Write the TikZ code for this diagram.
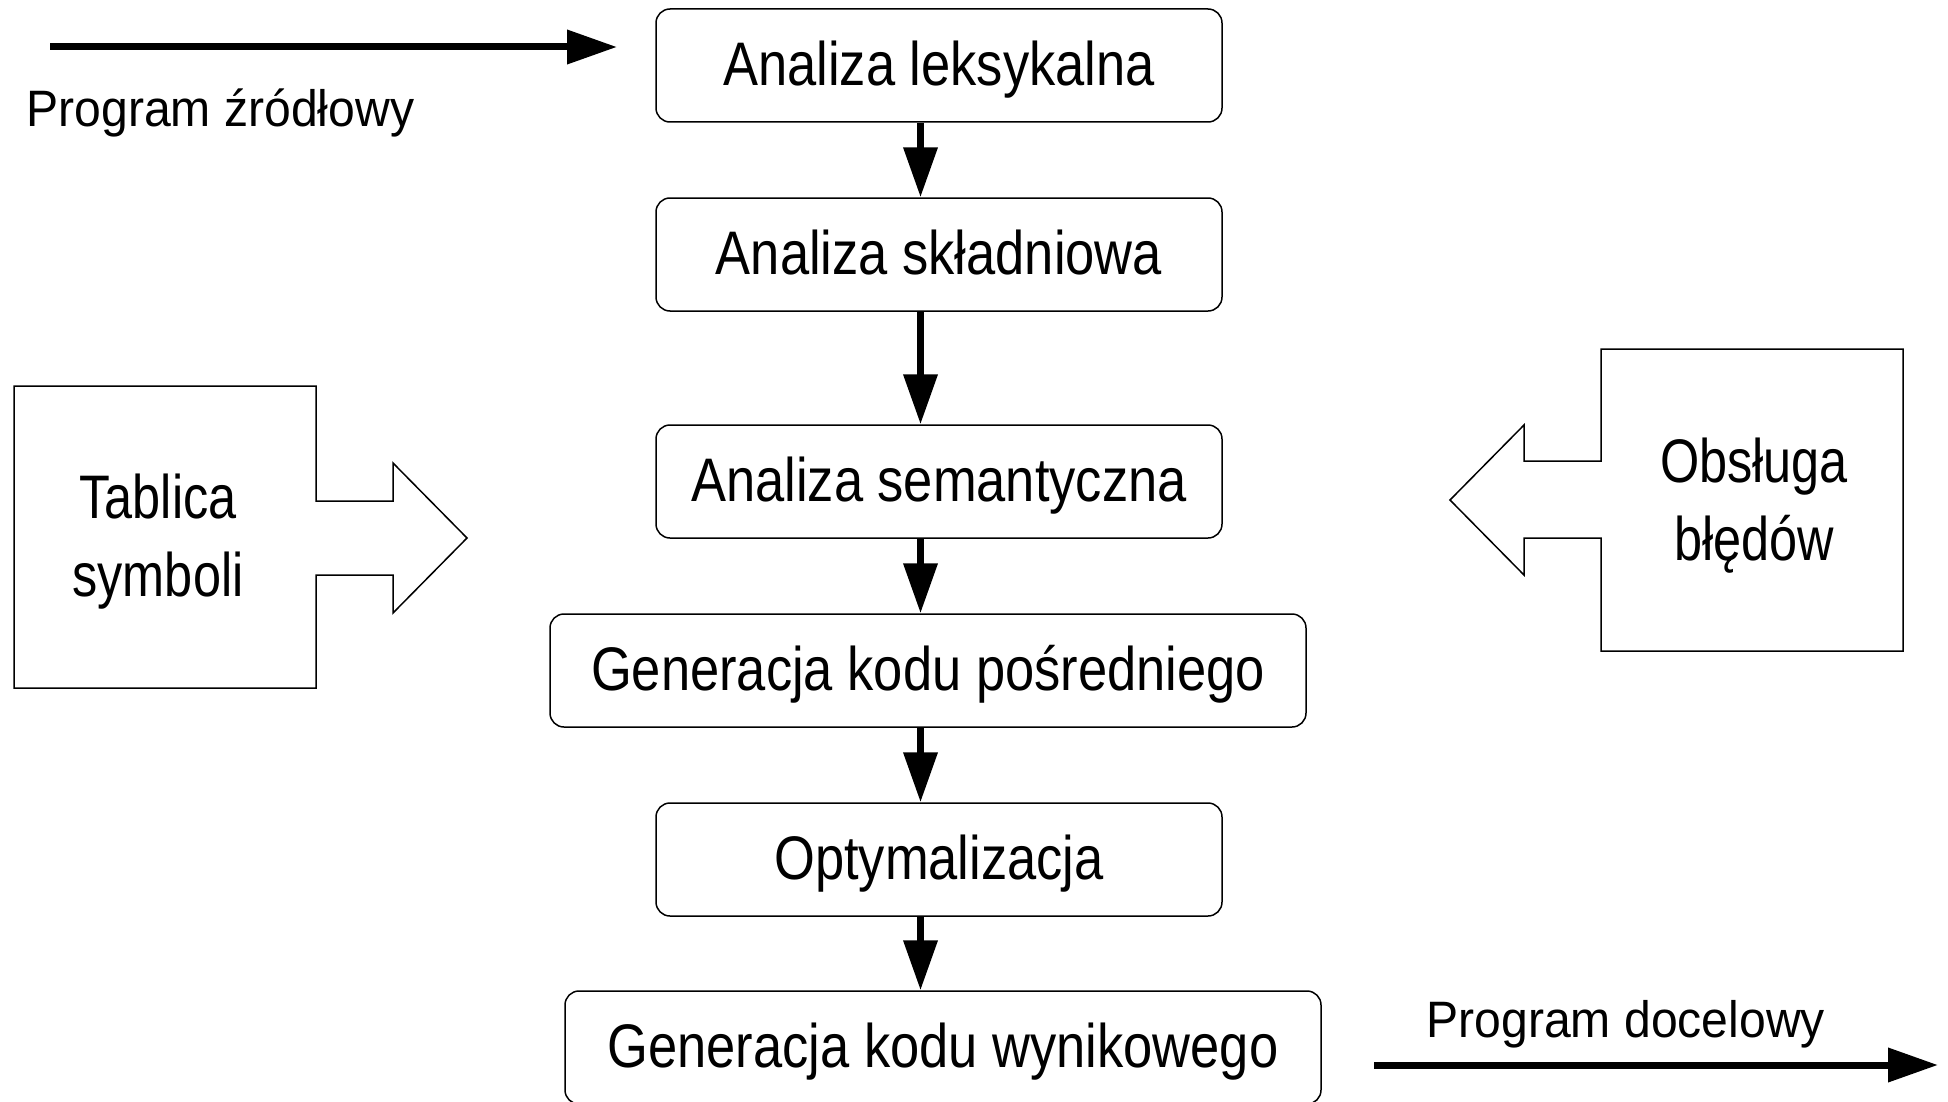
\documentclass[tikz,border=0pt]{standalone}
\usepackage{fontspec}
\usetikzlibrary{arrows.meta}
\newfontfamily\boxfont[FakeStretch=0.853]{Liberation Sans}
\newfontfamily\sidefont[FakeStretch=0.82]{Liberation Sans}
\newfontfamily\lblfont[FakeStretch=0.94]{Liberation Sans}
\tikzset{
  stage/.style={draw, line width=0.75pt, rounded corners=7pt, inner sep=0pt,
    minimum width=283pt, minimum height=56.5pt,
    font=\boxfont\fontsize{30.75pt}{39pt}\selectfont,
    text height=20.2pt, text depth=0pt},
  widestage/.style={stage, minimum width=378pt},
  flow/.style={line width=3.5pt, -{Triangle[length=25pt,width=16.5pt]}},
  sideshape/.style={draw, line width=0.75pt, line join=miter},
  sidetext/.style={inner sep=0pt, align=center,
    font=\sidefont\fontsize{30.75pt}{39pt}\selectfont},
  iolabel/.style={inner sep=0pt, anchor=base west,
    font=\lblfont\fontsize{25.6pt}{30pt}\selectfont}
}
\begin{document}
\begin{tikzpicture}[x=0.5pt, y=-0.5pt]
\useasboundingbox (0,0) rectangle (1948,1102);

% main pipeline
\node[stage]     (b1) at (939,65.5)   {Analiza leksykalna};
\node[stage]     (b2) at (939,254.5)  {Analiza składniowa};
\node[stage]     (b3) at (939,481.5)  {Analiza semantyczna};
\node[widestage] (b4) at (928,670.5)  {Generacja kodu pośredniego};
\node[stage]     (b5) at (939,859.5)  {Optymalizacja};
\node[widestage] (b6) at (943,1047.5) {Generacja kodu wynikowego};

\coordinate (ax) at (920.5,0);
\draw[flow] (b1.south -| ax) -- (b2.north -| ax);
\draw[flow] (b2.south -| ax) -- (b3.north -| ax);
\draw[flow] (b3.south -| ax) -- (b4.north -| ax);
\draw[flow] (b4.south -| ax) -- (b5.north -| ax);
\draw[flow] (b5.south -| ax) -- (b6.north -| ax);

% input / output
\coordinate (inS) at (50,47);
\coordinate (inE) at (617,47);
\draw[flow] (inS) -- (inE);
\node[iolabel] (inlbl) at (26,126.7) {Program źródłowy};

\coordinate (outS) at (1374,1065);
\coordinate (outE) at (1938,1065);
\draw[flow] (outS) -- (outE);
\node[iolabel] (outlbl) at (1426,1037) {Program docelowy};

% symbol table
\draw[sideshape] (14,386) -- (316,386) -- (316,501) -- (393,501) -- (393,463)
  -- (467,538) -- (393,613) -- (393,575) -- (316,575) -- (316,688) -- (14,688) -- cycle;
\node[sidetext] (tab) at (158,541.5) {Tablica\\symboli};

% error handling
\draw[sideshape] (1903,349) -- (1601,349) -- (1601,461) -- (1524,461) -- (1524,425)
  -- (1450,500) -- (1524,575) -- (1524,538) -- (1601,538) -- (1601,651) -- (1903,651) -- cycle;
\node[sidetext] (err) at (1754,505.5) {Obsługa\\błędów};
\end{tikzpicture}
\end{document}
